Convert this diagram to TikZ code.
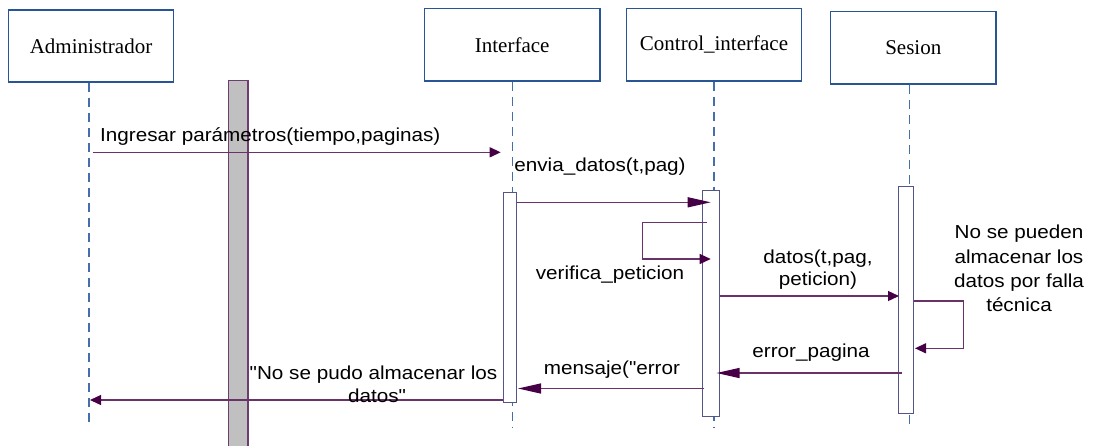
\documentclass[tikz,border=0pt]{standalone}
\usepackage{fontspec}
\setmainfont{Liberation Serif}
\newfontfamily\msgfont[FakeStretch=1.1]{Liberation Sans}
\usetikzlibrary{arrows.meta}
\definecolor{boxblue}{RGB}{40,85,150}
\definecolor{lifeblue}{RGB}{70,110,170}
\definecolor{actline}{RGB}{85,85,135}
\definecolor{msgline}{RGB}{105,50,105}
\definecolor{msghead}{RGB}{70,0,70}
\definecolor{barfill}{RGB}{192,192,192}
\definecolor{barline}{RGB}{110,60,110}
\begin{document}
\begin{tikzpicture}[x=1pt,y=-1pt,
  objbox/.style={draw=boxblue, line width=1.1pt, fill=white, inner sep=0pt,
    font=\fontsize{21}{25}\selectfont},
  life/.style={draw=lifeblue, line width=1.2pt, dash pattern=on 9pt off 6pt},
  act/.style={draw=actline, line width=1.4pt, fill=white, inner sep=0pt, anchor=north},
  msg/.style={draw=msgline, line width=1.3pt,
    -{Triangle[length=11pt,width=10pt,fill=msghead,color=msghead]}},
  msglong/.style={draw=msgline, line width=1.3pt,
    -{Triangle[length=23pt,width=10pt,fill=msghead,color=msghead]}},
  lbl/.style={font=\msgfont\fontsize{18.8}{24.5}\selectfont, inner sep=0pt,
    anchor=base, align=center, text=black},
]
\useasboundingbox (0,0) rectangle (1097,445);

% object boxes
\node[objbox, minimum width=165.4pt, minimum height=72pt] (adm) at (91,46) {Administrador};
\node[objbox, minimum width=175.6pt, minimum height=72.5pt] (itf) at (512.2,44.75) {Interface};
\node[objbox, minimum width=175.2pt, minimum height=72.5pt] (ctl) at (714,44.75) {Control\_interface};
\node[objbox, minimum width=165.3pt, minimum height=72.3pt] (ses) at (913.3,47.85) {Sesion};

% lifeline ends
\coordinate (admEnd) at (89,427);
\coordinate (itfEnd) at (512.3,427);
\coordinate (ctlEnd) at (714,428);
\coordinate (sesEnd) at (909.3,427);
\draw[life] (adm.south -| admEnd) -- (admEnd);
\draw[life] (itf.south -| itfEnd) -- (itfEnd);
\draw[life] (ctl.south -| ctlEnd) -- (ctlEnd);
\draw[life] (ses.south -| sesEnd) -- (sesEnd);

% gray bar
\node[draw=barline, line width=1.3pt, fill=barfill, inner sep=0pt, anchor=north,
  minimum width=19.7pt, minimum height=370pt] (bar) at (238.15,80) {};

% activation boxes
\node[act, minimum width=13.4pt, minimum height=209.7pt] (ia) at (510,192) {};
\node[act, minimum width=16.6pt, minimum height=226pt] (ca) at (711,190) {};
\node[act, minimum width=15pt, minimum height=226.7pt] (sa) at (905.8,186) {};

% message 1
\coordinate (m1s) at (92.7,152.3);
\coordinate (m1e) at (500.7,152.3);
\draw[msg] (m1s) -- (m1e);
\node[lbl, anchor=base west] (l1) at (100,141.7) {Ingresar parámetros(tiempo,paginas)};

% message 2
\coordinate (m2e) at (710.7,202.3);
\draw[msglong] (ia.east |- m2e) -- (m2e);
\node[lbl] (l2) at (600,171) {envia\_datos(t,pag)};

% self loop verifica
\coordinate (m3s) at (706.7,222.7);
\coordinate (m3a) at (642.7,222.7);
\coordinate (m3b) at (642.7,259);
\coordinate (m3e) at (710.7,259);
\draw[msg] (m3s) -- (m3a) -- (m3b) -- (m3e);
\node[lbl] (l3) at (610,279) {verifica\_peticion};

% datos
\coordinate (m4e) at (899,296);
\draw[msg] (ca.east |- m4e) -- (m4e);
\node[lbl] (l4a) at (818,263) {datos(t,pag,};
\node[lbl] (l4b) at (818,285.5) {peticion)};

% self loop sesion
\coordinate (m5a) at (963.3,301);
\coordinate (m5b) at (963.3,348.3);
\coordinate (m5e) at (915,348.3);
\draw[msg] (sa.east |- m5a) -- (m5a) -- (m5b) -- (m5e);
\node[lbl] (n1) at (1019,238.3) {No se pueden};
\node[lbl] (n2) at (1019,263) {almacenar los};
\node[lbl] (n3) at (1019,287.5) {datos por falla};
\node[lbl] (n4) at (1019,311.7) {técnica};

% error_pagina
\coordinate (m6s) at (902,373);
\coordinate (m6e) at (716.5,373);
\draw[msglong] (m6s) -- (m6e);
\node[lbl] (l6) at (811,357) {error\_pagina};

% mensaje
\coordinate (m7s) at (704.3,388.5);
\coordinate (m7e) at (518,388.5);
\draw[msglong] (m7s) -- (m7e);
\node[lbl] (l7) at (612,374) {mensaje("error};

% final
\coordinate (m8e) at (90,400);
\draw[msg] (ia.west |- m8e) -- (m8e);
\node[lbl] (l8a) at (373.5,379) {"No se pudo almacenar los};
\node[lbl] (l8b) at (377,402) {datos"};
\end{tikzpicture}
\end{document}
